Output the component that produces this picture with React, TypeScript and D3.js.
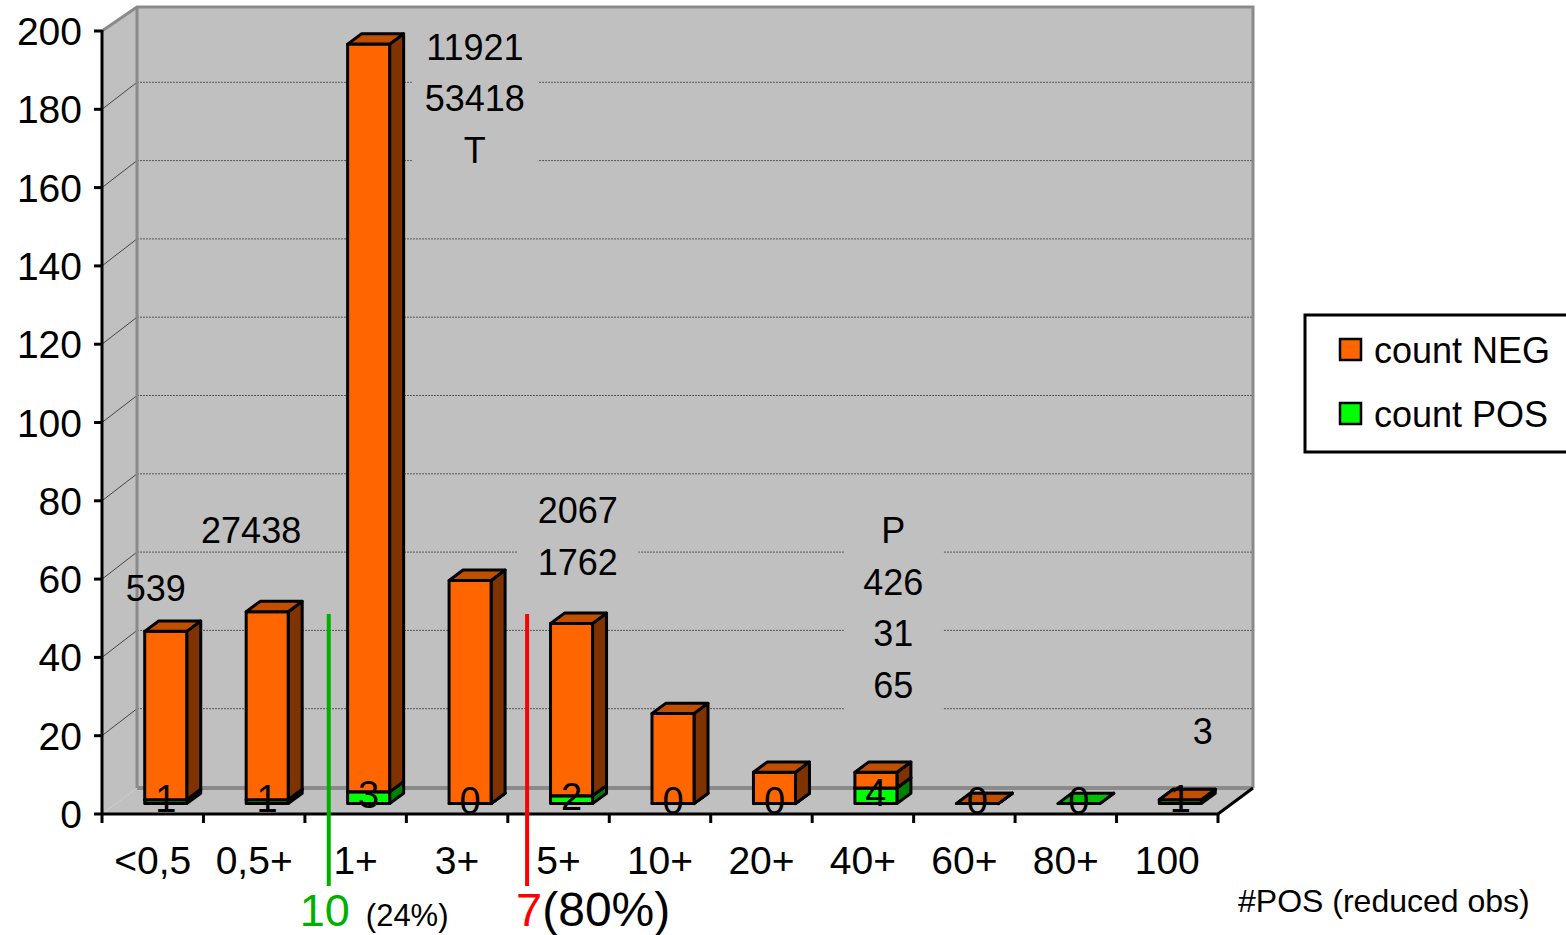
import React from "react";
import * as d3 from "d3";

// Histogram of reduced observations, split by outcome
const categories = ["<0,5", "0,5+", "1+", "3+", "5+", "10+", "20+", "40+", "60+", "80+", "100"];
const countNeg: (number | null)[] = [43, 48, 191, 57, 44, 23, 8, 4, 0, null, 0];
const countPos: (number | null)[] = [1, 1, 3, 0, 2, 0, 0, 4, 0, 0, 1];
const yTicks = [0, 20, 40, 60, 80, 100, 120, 140, 160, 180, 200];
const seriesNames = ["count NEG", "count POS"];

// Free-text notes placed in data units (fractional category position, value on the front plane)
const notes = [
  { lines: ["539"], at: 0.53, value: 54.4, box: 0 },
  { lines: ["27438"], at: 1.47, value: 69.2, box: 0 },
  { lines: ["11921", "53418", "T"], at: 3.675, value: 192.6, box: 126 },
  { lines: ["2067", "1762"], at: 4.69, value: 74.3, box: 121 },
  { lines: ["P", "426", "31", "65"], at: 7.8, value: 69.2, box: 99 },
  { lines: ["3"], at: 10.85, value: 17.9, box: 0 },
];

// Threshold markers below the axis
const markers = [
  { at: 2.235, color: "#00B000", main: "10", extra: "(24%)" },
  { at: 4.19, color: "#FF0000", main: "7", extra: "(80%)" },
];

const W = 1566;
const H = 935;
const FONT = "Arial, 'Liberation Sans', sans-serif";

const left = 102;
const right = 1218;
const bottom = 814;
const top = 31;
const depthX = 35;
const depthY = -26;
const barD0 = 0.4;
const barD1 = 0.8;

const NEG = { front: "#FF6600", top: "#C05000", side: "#7F3300" };
const POS = { front: "#00FF00", top: "#00C000", side: "#008000" };
const WALL = "#C0C0C0";
const WALL_EDGE = "#8A8A8A";

export default function App() {
  const x = d3.scaleBand<string>().domain(categories).range([left, right]).paddingInner(0).paddingOuter(0);
  const xc = d3.scaleLinear().domain([0, categories.length]).range([left, right]);
  const y = d3.scaleLinear().domain([0, 200]).range([bottom, top]);

  const bx = (d: number) => depthX * d;
  const by = (d: number) => depthY * d;

  const barW = x.bandwidth() * 0.414;
  const sideDx = bx(barD1 - barD0);
  const sideDy = by(barD1 - barD0);

  const backBottom = bottom + by(1);
  const backTop = top + by(1) + 2;
  const backLeft = left + bx(1);
  const backRight = right + bx(1);

  const pts = (p: [number, number][]) => p.map((q) => q.join(",")).join(" ");

  const segment = (key: string, L: number, v0: number, v1: number, c: typeof NEG) => {
    const R = L + barW;
    const yb = y(v0) + by(barD0);
    const yt = y(v1) + by(barD0);
    const common = { stroke: "#000", strokeWidth: 3, strokeLinejoin: "round" as const };
    return (
      <g key={key}>
        <polygon
          points={pts([[R, yb], [R + sideDx, yb + sideDy], [R + sideDx, yt + sideDy], [R, yt]])}
          fill={c.side}
          {...common}
        />
        <rect x={L} y={yt} width={barW} height={Math.max(0, yb - yt)} fill={c.front} {...common} />
        <polygon
          points={pts([[L, yt], [L + sideDx, yt + sideDy], [R + sideDx, yt + sideDy], [R, yt]])}
          fill={c.top}
          {...common}
        />
      </g>
    );
  };

  const bars = categories.map((cat, i) => {
    const center = (x(cat) as number) + x.bandwidth() / 2;
    const L = center - barW / 2 + bx(barD0) - 1;
    const pos = countPos[i];
    const neg = countNeg[i];
    const base = pos ?? 0;
    return (
      <g key={cat}>
        {pos !== null && segment("p", L, 0, pos, POS)}
        {neg !== null && segment("n", L, base, base + neg, NEG)}
      </g>
    );
  });

  const posLabels = categories.map((cat, i) => {
    const pos = countPos[i];
    if (pos === null) return null;
    const center = (x(cat) as number) + x.bandwidth() / 2 + bx(barD0) - 1;
    const cy = y(pos / 2) + by(barD0) - 3;
    return (
      <text key={cat} x={center} y={cy + 0.358 * 38} textAnchor="middle" fontSize={38} fill="#000">
        {pos}
      </text>
    );
  });

  const lineGap = 51.5;

  return (
    <svg
      width={W}
      height={H}
      viewBox={`0 0 ${W} ${H}`}
      style={{ position: "absolute", left: 0, top: 0, background: "#fff", fontFamily: FONT }}
    >
      {/* walls and floor */}
      <polygon
        points={pts([[left, bottom], [left, top], [backLeft, backTop], [backLeft, backBottom]])}
        fill={WALL}
      />
      <polygon
        points={pts([[left, bottom], [backLeft, backBottom], [backRight, backBottom], [right, bottom]])}
        fill={WALL}
      />
      <rect x={backLeft} y={backTop} width={backRight - backLeft} height={backBottom - backTop} fill={WALL} />

      {/* gridlines on the back wall and the side wall */}
      {yTicks.slice(1, -1).map((t) => (
        <g key={t}>
          <line
            x1={backLeft}
            x2={backRight}
            y1={y(t) + by(1) - 1}
            y2={y(t) + by(1) - 1}
            stroke="#555"
            strokeWidth={1}
            strokeDasharray="2,1"
          />
          <line x1={left} x2={backLeft} y1={y(t)} y2={y(t) + by(1) - 1} stroke="#444" strokeWidth={1} />
        </g>
      ))}

      {/* wall edges */}
      <polyline
        points={pts([[left, top], [backLeft, backTop], [backRight, backTop], [backRight, backBottom]])}
        fill="none"
        stroke={WALL_EDGE}
        strokeWidth={3}
      />
      <line x1={backLeft} x2={backLeft} y1={backTop} y2={backBottom} stroke={WALL_EDGE} strokeWidth={3} />
      <line x1={backLeft} x2={backRight} y1={backBottom} y2={backBottom} stroke={WALL_EDGE} strokeWidth={4} />

      {/* notes */}
      {notes.map((n, k) => {
        const cx = xc(n.at);
        const b0 = y(n.value);
        const b1 = b0 + lineGap * (n.lines.length - 1);
        return (
          <g key={k}>
            {n.box > 0 && <rect x={cx - n.box / 2} y={b0 - 38} width={n.box} height={b1 - b0 + 53} fill={WALL} />}
            {n.lines.map((s, j) => (
              <text key={j} x={cx} y={b0 + lineGap * j} textAnchor="middle" fontSize={36} fill="#000">
                {s}
              </text>
            ))}
          </g>
        );
      })}

      {/* bars */}
      {bars}
      {posLabels}

      {/* axes */}
      <line x1={left} x2={left} y1={top - 1} y2={bottom + 1} stroke="#000" strokeWidth={3} />
      {yTicks.map((t) => (
        <g key={t}>
          <line x1={left - 8} x2={left} y1={y(t)} y2={y(t)} stroke="#000" strokeWidth={3} />
          <text x={82} y={y(t) + 14} textAnchor="end" fontSize={39} fill="#000">
            {t}
          </text>
        </g>
      ))}
      <line x1={left - 1} x2={right} y1={bottom} y2={bottom} stroke="#000" strokeWidth={3} />
      <line x1={right} x2={backRight} y1={bottom} y2={backBottom} stroke="#000" strokeWidth={3} />
      {d3.range(categories.length + 1).map((k) => (
        <line key={k} x1={xc(k)} x2={xc(k)} y1={bottom} y2={bottom + 9} stroke="#000" strokeWidth={3} />
      ))}
      {categories.map((cat) => (
        <text
          key={cat}
          x={(x(cat) as number) + x.bandwidth() / 2}
          y={874}
          textAnchor="middle"
          fontSize={39}
          fill="#000"
        >
          {cat}
        </text>
      ))}
      <text x={1238} y={912} fontSize={32} fill="#000">
        #POS (reduced obs)
      </text>

      {/* threshold markers */}
      {markers.map((m, k) => {
        const mx = xc(m.at);
        return <line key={k} x1={mx} x2={mx} y1={614} y2={886} stroke={m.color} strokeWidth={4} />;
      })}
      <text x={xc(markers[0].at) - 29} y={926} fill="#000">
        <tspan fill={markers[0].color} fontSize={45}>
          {markers[0].main}
        </tspan>
        <tspan fontSize={31} dx={16}>
          {markers[0].extra}
        </tspan>
      </text>
      <text x={xc(markers[1].at) - 11} y={926} fill="#000">
        <tspan fill={markers[1].color} fontSize={47}>
          {markers[1].main}
        </tspan>
        <tspan fontSize={48}>{markers[1].extra}</tspan>
      </text>

      {/* legend */}
      <rect x={1305} y={315} width={280} height={137} fill="#fff" stroke="#000" strokeWidth={3} />
      {seriesNames.map((s, k) => {
        const c = k === 0 ? NEG : POS;
        const cy = 350 + k * 64;
        return (
          <g key={s}>
            <rect x={1340} y={cy - 11} width={21} height={21} fill={c.front} stroke="#000" strokeWidth={2.5} />
            <text x={1374} y={cy + 13} fontSize={36} fill="#000">
              {s}
            </text>
          </g>
        );
      })}
    </svg>
  );
}
